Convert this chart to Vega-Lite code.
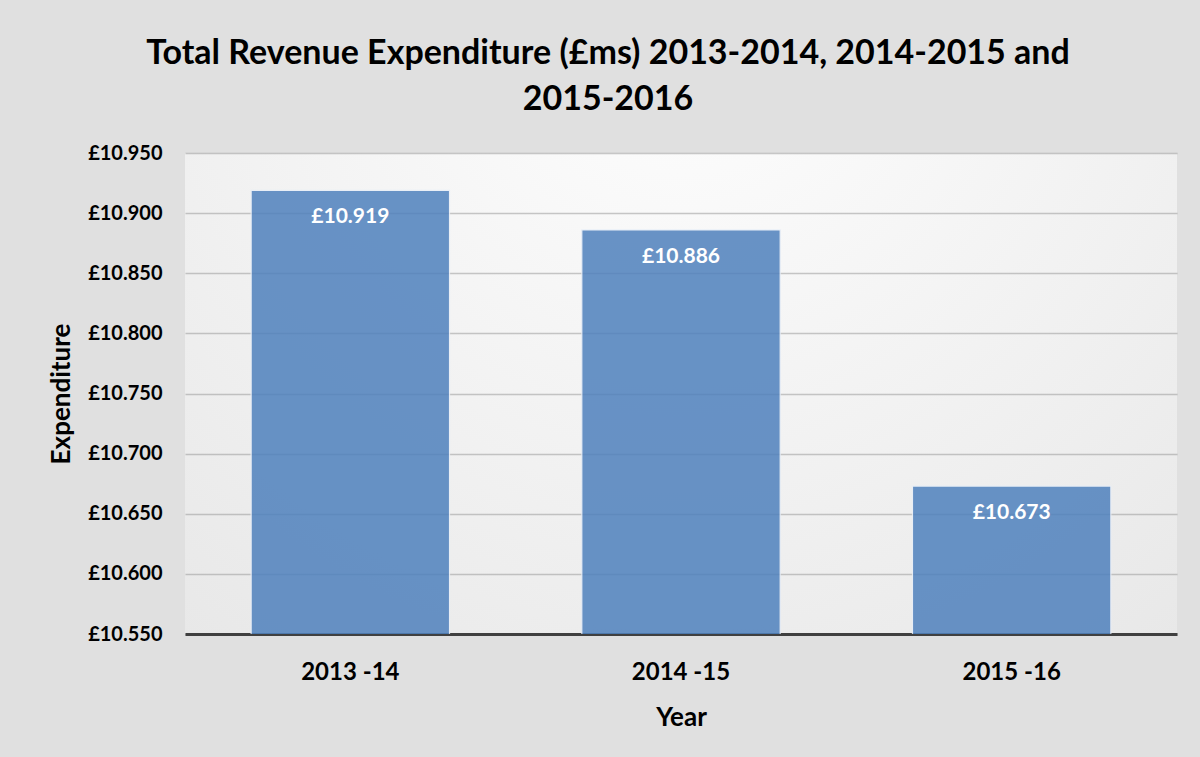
{
  "$schema": "https://vega.github.io/schema/vega-lite/v6.json",
  "width": 992,
  "height": 481,
  "autosize": {"type": "none"},
  "padding": {"left": 185, "top": 153, "right": 23, "bottom": 123},
  "background": "#e0e0e0",
  "config": {
    "font": "Lato",
    "view": {
      "stroke": null,
      "fill": {
        "gradient": "radial",
        "x1": 0.5, "y1": 0.1, "r1": 0,
        "x2": 0.5, "y2": 0.1, "r2": 1.1,
        "stops": [
          {"offset": 0, "color": "#ffffff"},
          {"offset": 1, "color": "#e0e0e0"}
        ]
      }
    }
  },
  "title": {
    "text": ["Total Revenue Expenditure (£ms) 2013-2014, 2014-2015 and", "2015-2016"],
    "font": "Lato",
    "fontSize": 34,
    "fontWeight": "bold",
    "color": "#000000",
    "anchor": "middle",
    "dx": -73,
    "offset": 26,
    "lineHeight": 46
  },
  "data": {
    "values": [
      {"Year": "2013 -14", "Expenditure": 10.919},
      {"Year": "2014 -15", "Expenditure": 10.886},
      {"Year": "2015 -16", "Expenditure": 10.673}
    ]
  },
  "encoding": {
    "x": {
      "field": "Year",
      "type": "nominal",
      "sort": null,
      "scale": {"paddingInner": 0.4, "paddingOuter": 0.2},
      "axis": {
        "title": "Year",
        "labelAngle": 0,
        "labelFont": "Lato",
        "labelFontSize": 24,
        "labelFontWeight": "bold",
        "labelColor": "#000000",
        "labelPadding": 26,
        "ticks": false,
        "domainColor": "#404040",
        "domainWidth": 3,
        "titleFont": "Lato",
        "titleFontSize": 26,
        "titleFontWeight": "bold",
        "titleColor": "#000000",
        "titlePadding": 20,
        "grid": false
      }
    },
    "y": {
      "field": "Expenditure",
      "type": "quantitative",
      "scale": {"domain": [10.55, 10.95], "zero": false, "nice": false},
      "axis": {
        "title": "Expenditure",
        "values": [10.55, 10.6, 10.65, 10.7, 10.75, 10.8, 10.85, 10.9, 10.95],
        "labelExpr": "'£' + format(datum.value, '.3f')",
        "labelFont": "Lato",
        "labelFontSize": 20,
        "labelFontWeight": "bold",
        "labelColor": "#000000",
        "labelPadding": 23,
        "ticks": false,
        "domain": false,
        "grid": true,
        "gridColor": "#9a9a9a",
        "gridOpacity": 0.55,
        "gridWidth": 1.5,
        "titleFont": "Lato",
        "titleFontSize": 26,
        "titleFontWeight": "bold",
        "titleColor": "#000000",
        "titlePadding": 13
      }
    }
  },
  "layer": [
    {
      "mark": {"type": "bar", "color": "#4f81bd", "opacity": 0.85, "stroke": "#e8eef7", "strokeWidth": 1.2, "clip": true}
    },
    {
      "mark": {
        "type": "text",
        "color": "#ffffff",
        "font": "Lato",
        "fontSize": 21,
        "fontWeight": "bold",
        "baseline": "middle",
        "dy": 27,
        "text": {"expr": "'£' + format(datum.Expenditure, '.3f')"}
      }
    }
  ]
}
